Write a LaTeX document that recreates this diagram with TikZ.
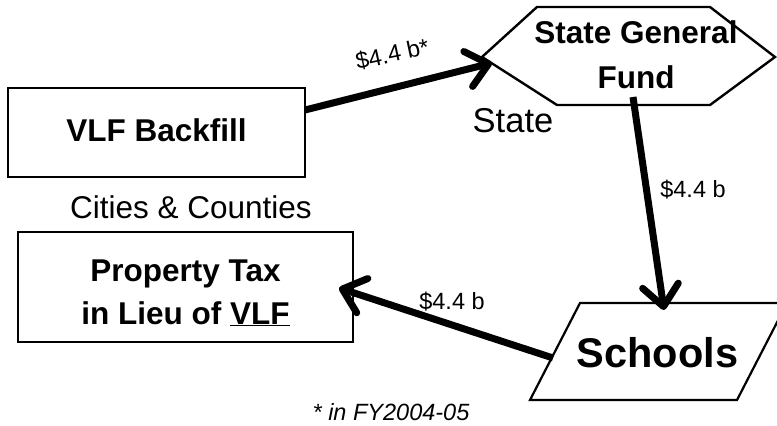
\documentclass[tikz,border=0pt]{standalone}
\usepackage{fontspec}
\setmainfont{Liberation Sans}
\usetikzlibrary{arrows.meta}
\tikzset{
  boxframe/.style={draw, line width=2.6pt, minimum width=#1, inner sep=0pt},
  flowarrow/.style={line width=7pt, -{Straight Barb[length=21pt,width=36pt,line cap=round,line join=round]}},
  bigbold/.style={font=\fontsize{31.5}{44}\selectfont\bfseries, align=center},
  plainlabel/.style={font=\fontsize{34.5}{40}\selectfont, anchor=base},
  amount/.style={font=\fontsize{23.5}{28}\selectfont, anchor=base},
}
\begin{document}
\begin{tikzpicture}[x=1pt,y=-1pt]
\useasboundingbox (0,0) rectangle (777,426);
% boxes
\node[boxframe=297pt, minimum height=89pt] (vlf) at (156.5,132.5) {};
\node[bigbold, anchor=base] (vlftext) at (156.5,141) {VLF Backfill};
\node[boxframe=335pt, minimum height=110pt] (ptax) at (185.5,287) {};
\node[bigbold, anchor=base] (ptax1) at (185.5,281) {Property Tax};
\node[bigbold, anchor=base] (ptax2) at (185.5,324) {in Lieu of \underline{VLF}};
% hexagon
\draw[line width=2.4pt, line join=miter] (482,57) coordinate (hexL) -- (537,7) -- (710,7) -- (775,57) -- (710,105) -- (557,105) -- cycle;
\node[bigbold, anchor=base] (sgf1) at (636,43) {State General};
\node[bigbold, anchor=base] (sgf2) at (636,88) {Fund};
\coordinate (hexB) at (633,97);
% parallelogram
\draw[line width=2.2pt] (580,303) -- (787,303) -- (737,400) -- (530,400) -- cycle;
\node[font=\fontsize{41.5}{48}\selectfont\bfseries, anchor=base] (schools) at (657.5,367) {Schools};
\coordinate (schT) at (664,310);
\coordinate (schL) at (553,358);
% arrow end points
\coordinate (vlfR) at (305,110);
\coordinate (hexIn) at (492,63);
\coordinate (ptaxIn) at (339,288);
% labels
\node[plainlabel] (state) at (513,132) {State};
\node[plainlabel, font=\fontsize{31.5}{38}\selectfont] (cities) at (191,218) {Cities \& Counties};
\node[amount, rotate=12] (a1) at (394,62) {\$4.4 b*};
\node[amount] (a2) at (693,197) {\$4.4 b};
\node[amount] (a3) at (452,309) {\$4.4 b};
\node[amount, font=\fontsize{23.5}{28}\selectfont\itshape] (foot) at (391,420) {* in FY2004-05};
% arrows
\draw[flowarrow] (vlfR) -- (hexIn);
\draw[flowarrow] (hexB) -- (schT);
\draw[flowarrow] (schL) -- (ptaxIn);
\end{tikzpicture}
\end{document}
